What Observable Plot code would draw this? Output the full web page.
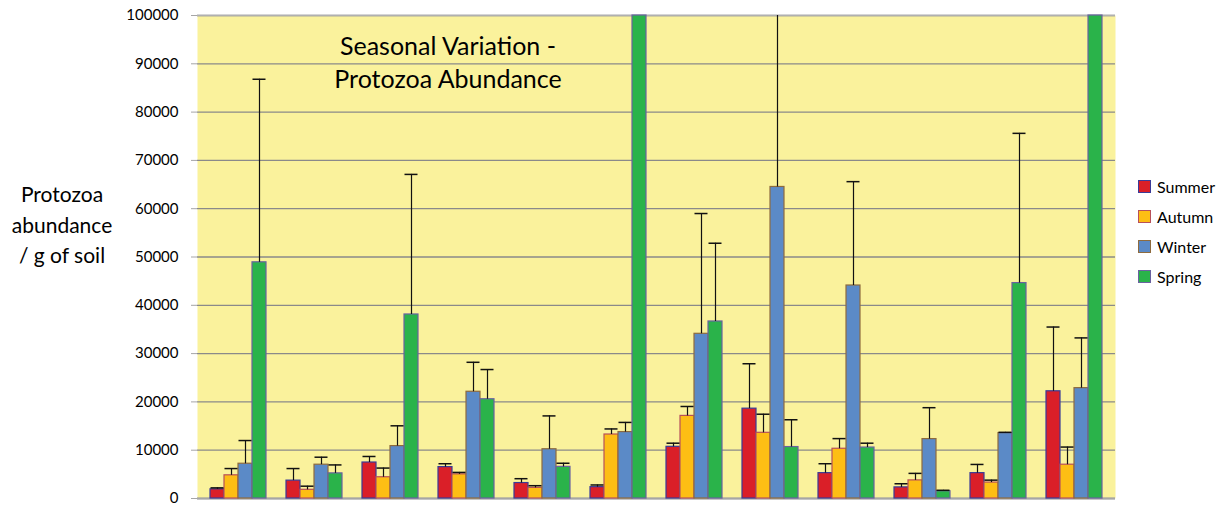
<!DOCTYPE html>
<html>
<head>
<meta charset="utf-8">
<script src="https://cdn.jsdelivr.net/npm/d3@7"></script>
<script src="https://cdn.jsdelivr.net/npm/@observablehq/plot@0.6"></script>
<style>
  html, body { margin: 0; padding: 0; background: #fff; }
  #wrap { position: relative; width: 1223px; height: 506px; font-family: Lato, "Open Sans", sans-serif; color: #000; }
  #chart { position: absolute; left: 0; top: 0; }
  #ytitle { position: absolute; left: 0px; top: 179px; width: 124px; text-align: center; font-size: 21px; line-height: 30.5px; }
  #title { position: absolute; left: 298px; top: 29px; width: 300px; text-align: center; font-size: 25px; line-height: 33px; }
  #legend { position: absolute; left: 1138px; top: 171px; font-size: 16px; }
  .item { display: flex; align-items: center; height: 30px; }
  .sw { width: 11px; height: 11px; margin-right: 6px; border: 1.5px solid; }
</style>
</head>
<body>
<div id="wrap">
  <div id="chart"></div>
  <div id="ytitle">Protozoa<br>abundance<br>/ g of soil</div>
  <div id="title">Seasonal Variation -<br>Protozoa Abundance</div>
  <div id="legend"></div>
</div>
<script>
// Sites (12 unlabelled groups)
const groups = ["1","2","3","4","5","6","7","8","9","10","11","12"];
const seasons = ["Summer","Autumn","Winter","Spring"];
// Mean abundance per season
const summer = [1900, 3700, 7450, 6500, 3200, 2350, 10700, 18600, 5250, 2300, 5250, 22200];
const autumn = [4800, 1800, 4400, 5000, 2200, 13250, 17100, 13600, 10300, 3750, 3300, 7000];
const winter = [7200, 7000, 10850, 22100, 10200, 13750, 34100, 64500, 44100, 12300, 13550, 22850];
const spring = [48900, 5200, 38100, 20550, 6550, 160000, 36650, 10650, 10550, 1500, 44600, 160000];
// Top of error bar (mean + error)
const summerErr = [2200, 6200, 8700, 7200, 4100, 2800, 11450, 27900, 7200, 3050, 7050, 35500];
const autumnErr = [6200, 2550, 6300, 5400, 2650, 14400, 19050, 17450, 12400, 5200, 3800, 10650];
const winterErr = [12000, 8550, 15050, 28200, 17100, 15750, 59000, 130000, 65600, 18800, 13700, 33250];
const springErr = [86800, 6950, 67100, 26700, 7300, 200000, 52850, 16300, 11450, 1700, 75600, 200000];
const yTicks = [0,10000,20000,30000,40000,50000,60000,70000,80000,90000,100000];

const fills = ["#DA1F28", "#FDBE14", "#5B8AC7", "#2AB34A"];
const strokes = ["#3A3B98", "#B8505A", "#8E6B3E", "#6A62A0"];
const values = [summer, autumn, winter, spring];
const errs = [summerErr, autumnErr, winterErr, springErr];

const W = 1223, H = 506, ML = 197, MR = 108, MT = 15, MB = 8;
const padIn = 0.268, padOut = 0.134;
const step = (W - ML - MR) / (groups.length - padIn + 2 * padOut);
const bw = step * (1 - padIn);
const bar = bw / 4;
const cap = 13;

const rows = seasons.map((s, i) => groups.map((g, j) => ({group: g, season: s, value: values[i][j], err: errs[i][j]})));

const marks = [
  Plot.frame({fill: "#FAF29C", stroke: null}),
  Plot.gridY(yTicks, {stroke: "#8a8a8a", strokeOpacity: 1, strokeWidth: 1.3}),
  Plot.ruleX([0], {frameAnchor: "left", stroke: "#a6a6a6", strokeWidth: 2}),
  Plot.ruleY([0], {stroke: "#a6a6a6", strokeWidth: 2}),
  Plot.ruleY([100000], {stroke: "#b0b0b0", strokeWidth: 1.5})
];
rows.forEach((data, i) => {
  marks.push(Plot.barY(data, {x: "group", y: "value", fill: fills[i], stroke: strokes[i], strokeWidth: 1.2,
    insetLeft: i * bar, insetRight: (3 - i) * bar}));
});
rows.forEach((data, i) => {
  const off = (i - 1.5) * bar;
  marks.push(Plot.ruleX(data, {x: "group", y1: "value", y2: "err", dx: off, stroke: "#111", strokeWidth: 1.2}));
  marks.push(Plot.tickY(data.filter(d => d.err <= 100000), {x: "group", y: "err", dx: off, stroke: "#111", strokeWidth: 1.5,
    insetLeft: bw / 2 - cap / 2, insetRight: bw / 2 - cap / 2}));
});

const chart = Plot.plot({
  width: W, height: H,
  marginLeft: ML, marginRight: MR, marginTop: MT, marginBottom: MB,
  style: {fontFamily: "Lato, 'Open Sans', sans-serif", fontSize: "15px", background: "transparent", color: "#000"},
  x: {domain: groups, paddingInner: padIn, paddingOuter: padOut, axis: null},
  y: {domain: [0, 100000], clamp: true, ticks: yTicks, tickFormat: d => String(d), tickSize: 6, tickPadding: 13, label: null},
  marks
});
document.getElementById("chart").appendChild(chart);
chart.querySelectorAll("[aria-label='y-axis tick'] path, [aria-label='y-axis'] path").forEach(p => p.setAttribute("stroke", "#a6a6a6"));

const legend = document.getElementById("legend");
seasons.forEach((s, i) => {
  const it = document.createElement("div");
  it.className = "item";
  it.innerHTML = `<span class="sw" style="background:${fills[i]};border-color:${strokes[i]}"></span><span>${s}</span>`;
  legend.appendChild(it);
});
</script>
</body>
</html>
